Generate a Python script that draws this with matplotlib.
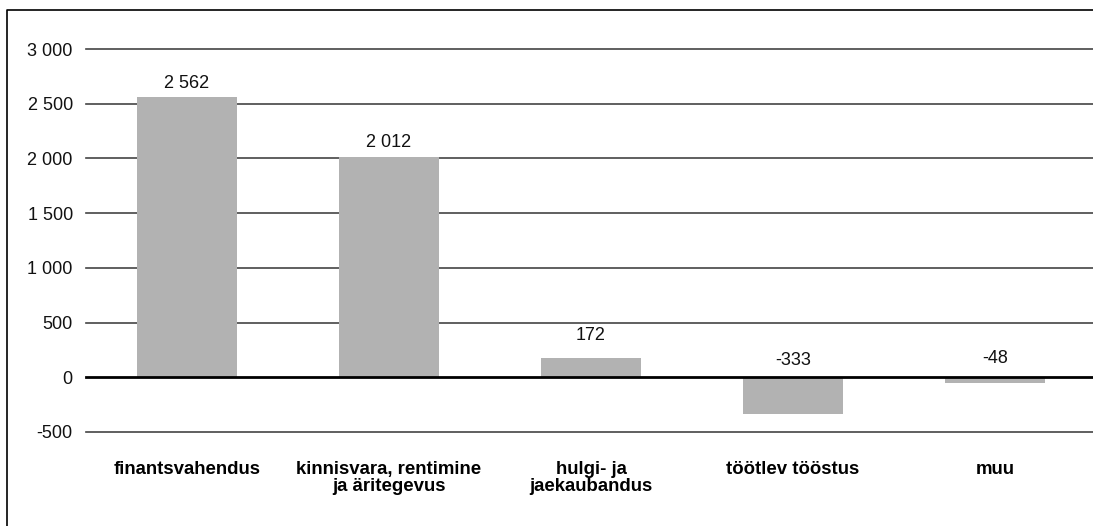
import matplotlib
matplotlib.use("Agg")
import matplotlib.pyplot as plt
from matplotlib.lines import Line2D

categories = ["finantsvahendus", "kinnisvara, rentimine\nja äritegevus",
              "hulgi- ja\njaekaubandus", "töötlev tööstus", "muu"]
values = [2562, 2012, 172, -333, -48]
yticks = [-500, 0, 500, 1000, 1500, 2000, 2500, 3000]
label_offsets = [3.4, 4.6, 10.4, 6.0, 7.5]   # points above bar top / zero line

plt.rcParams["font.family"] = ["Liberation Sans", "DejaVu Sans"]

W, H = 1093, 526
fig = plt.figure(figsize=(W / 100, H / 100), dpi=100)
ax = fig.add_axes([86 / W, (H - 432) / H, 1010 / W, (432 - 49) / H])

x = list(range(len(categories)))
ax.bar(x, values, width=0.495, color="#b2b2b2", zorder=2)

def fmt(v):
    s = f"{abs(v):,}".replace(",", " ")
    return ("-" if v < 0 else "") + s

for xi, v, off in zip(x, values, label_offsets):
    ax.annotate(fmt(v), (xi, max(v, 0)), xytext=(0, off), textcoords="offset points",
                ha="center", va="bottom", fontsize=13, color="#111111")

ax.set_xlim(-0.5, len(categories) - 0.5)
ax.set_ylim(-500, 3000)
ax.set_yticks(yticks)
ax.set_yticklabels([fmt(t) for t in yticks], fontsize=13, color="#111111")
for t in yticks:
    if t == 0:
        ax.axhline(t, color="#000000", lw=2.0, zorder=3, clip_on=False)
    else:
        ax.axhline(t, color="#444444", lw=1.2, zorder=1, clip_on=False)

ax.set_xticks(x)
ax.set_xticklabels(categories, fontsize=13.4, fontweight="bold", linespacing=1.0)
ax.tick_params(axis="both", length=0)
ax.tick_params(axis="y", pad=9.5)
ax.tick_params(axis="x", pad=21)
for s in ax.spines.values():
    s.set_visible(False)
ax.patch.set_alpha(0)

# frame (left and top edges)
fig.add_artist(Line2D([7 / W, 7 / W, 1.0], [0.0, 1 - 10 / H, 1 - 10 / H],
                      transform=fig.transFigure, color="#000000", lw=1.2))

fig.savefig("out.png", dpi=100)
